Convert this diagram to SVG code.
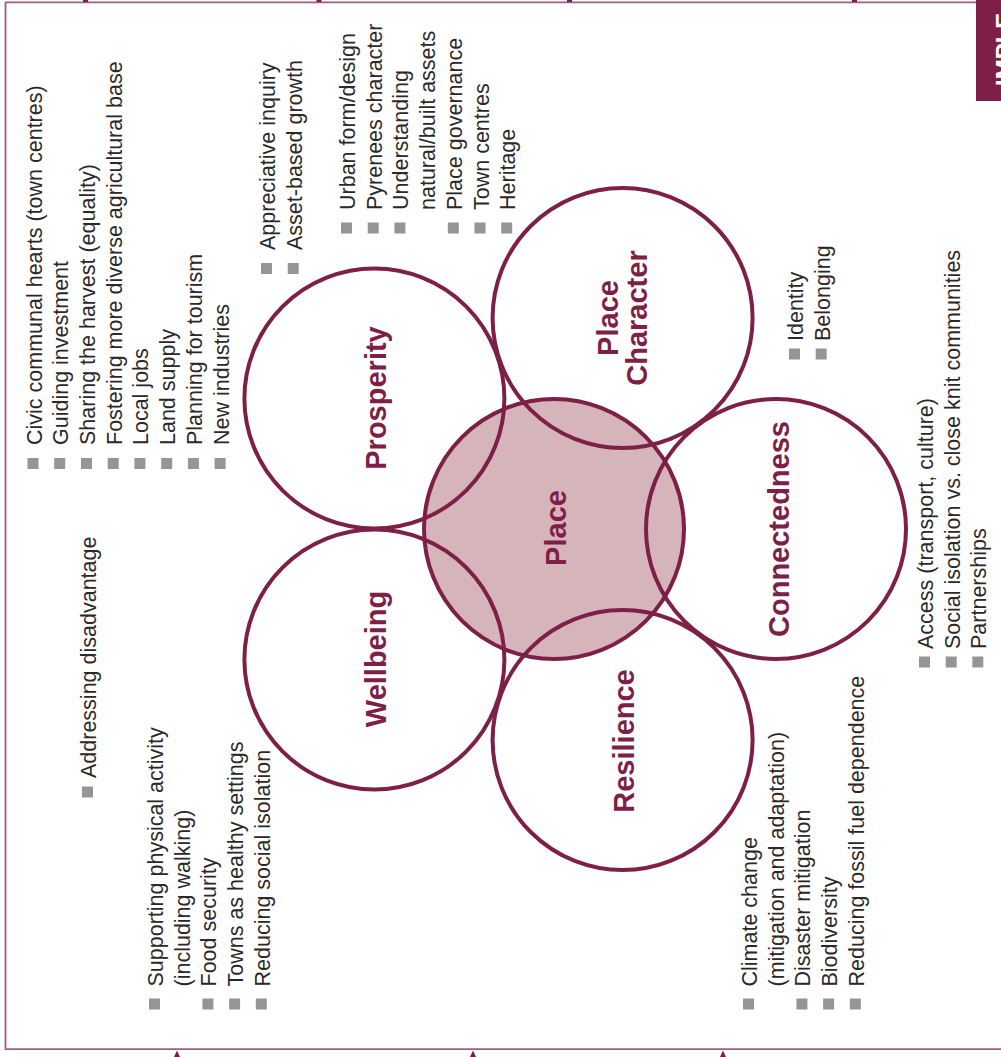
<svg xmlns="http://www.w3.org/2000/svg" width="1001" height="1057" viewBox="0 0 1001 1057">
  <style>
    .ring { fill: none; stroke: #7d1f46; stroke-width: 4; }
    .hub { fill: #d5b5ba; stroke: none; }
    .lbl { font-family: "Liberation Sans", Arial, Helvetica, sans-serif; font-weight: bold; font-size: 29px; fill: #7d1f46; text-anchor: middle; }
    .t { font-family: "Liberation Sans", Arial, Helvetica, sans-serif; font-size: 21.5px; fill: #2a2828; }
    .b { fill: #949599; }
    .frame { fill: none; stroke: #a65b7b; stroke-width: 1.8; }
    .tick { fill: #7d1f46; }
  </style>

  <rect x="0" y="0" width="1001" height="1057" fill="#ffffff"/>

  <!-- page frame -->
  <g id="frame">
    <polyline class="frame" points="976,2.3 5.5,2.3 5.5,1049.2 1001,1049.2"/>
    <rect class="tick" x="83" y="0" width="5" height="2"/>
    <rect class="tick" x="316.5" y="0" width="5" height="2"/>
    <rect class="tick" x="567" y="0" width="5" height="2"/>
    <rect class="tick" x="852" y="0" width="5" height="2"/>
    <rect x="976" y="0" width="25" height="101" fill="#7d1f46"/>
    <text transform="translate(1013 86) rotate(-90)" font-family="Liberation Sans, Arial, sans-serif" font-weight="bold" font-size="24" fill="#ffffff">IMPLE</text>
  </g>

  <!-- arrowheads entering from the lower edge -->
  <g id="connectors" fill="#7d1f46">
    <polygon points="177,1050.6 174,1057 180,1057"/>
    <polygon points="473,1050.6 470,1057 476,1057"/>
    <polygon points="723,1050.6 720,1057 726,1057"/>
  </g>

  <!-- central hub fill drawn under every ring -->
  <circle class="hub" cx="554" cy="529" r="130"/>

  <g id="node-place">
    <circle class="ring" cx="554" cy="529" r="130"/>
    <text class="lbl" transform="translate(566 528) rotate(-90)">Place</text>
  </g>

  <g id="node-prosperity">
    <circle class="ring" cx="374.4" cy="398.5" r="130"/>
    <text class="lbl" transform="translate(386 398) rotate(-90)">Prosperity</text>
  </g>

  <g id="node-place-character">
    <circle class="ring" cx="622.6" cy="317.9" r="130"/>
    <text class="lbl" transform="translate(618 318) rotate(-90)">Place</text>
    <text class="lbl" transform="translate(647 318) rotate(-90)">Character</text>
  </g>

  <g id="node-connectedness">
    <circle class="ring" cx="776" cy="529" r="130"/>
    <text class="lbl" transform="translate(789 529) rotate(-90)">Connectedness</text>
  </g>

  <g id="node-resilience">
    <circle class="ring" cx="622.6" cy="740.1" r="130"/>
    <text class="lbl" transform="translate(634 741) rotate(-90)">Resilience</text>
  </g>

  <g id="node-wellbeing">
    <circle class="ring" cx="374.4" cy="659.5" r="130"/>
    <text class="lbl" transform="translate(386 659) rotate(-90)">Wellbeing</text>
  </g>

  <!-- Prosperity notes -->
  <g id="list-prosperity">
    <rect class="b" x="27.5" y="458" width="11" height="11"/>
    <text class="t" transform="translate(41.5 445) rotate(-90)">Civic communal hearts (town centres)</text>
    <rect class="b" x="54.2" y="458" width="11" height="11"/>
    <text class="t" transform="translate(68.2 445) rotate(-90)">Guiding investment</text>
    <rect class="b" x="81" y="458" width="11" height="11"/>
    <text class="t" transform="translate(95 445) rotate(-90)">Sharing the harvest (equality)</text>
    <rect class="b" x="107.7" y="458" width="11" height="11"/>
    <text class="t" transform="translate(121.7 445) rotate(-90)">Fostering more diverse agricultural base</text>
    <rect class="b" x="134.4" y="458" width="11" height="11"/>
    <text class="t" transform="translate(148.4 445) rotate(-90)">Local jobs</text>
    <rect class="b" x="161.2" y="458" width="11" height="11"/>
    <text class="t" transform="translate(175.2 445) rotate(-90)">Land supply</text>
    <rect class="b" x="187.9" y="458" width="11" height="11"/>
    <text class="t" transform="translate(201.9 445) rotate(-90)">Planning for tourism</text>
    <rect class="b" x="214.6" y="458" width="11" height="11"/>
    <text class="t" transform="translate(228.6 445) rotate(-90)">New industries</text>
  </g>

  <g id="list-prosperity-approach">
    <rect class="b" x="261" y="263" width="11" height="11"/>
    <text class="t" transform="translate(275 250) rotate(-90)">Appreciative inquiry</text>
    <rect class="b" x="287.7" y="263" width="11" height="11"/>
    <text class="t" transform="translate(301.7 250) rotate(-90)">Asset-based growth</text>
  </g>

  <!-- Place Character notes -->
  <g id="list-place-character">
    <rect class="b" x="341" y="222.5" width="11" height="11"/>
    <text class="t" transform="translate(355 210) rotate(-90)">Urban form/design</text>
    <rect class="b" x="367.7" y="222.5" width="11" height="11"/>
    <text class="t" transform="translate(381.7 210) rotate(-90)">Pyrenees character</text>
    <rect class="b" x="394.4" y="222.5" width="11" height="11"/>
    <text class="t" transform="translate(408.4 210) rotate(-90)">Understanding</text>
    <text class="t" transform="translate(435.1 210) rotate(-90)">natural/built assets</text>
    <rect class="b" x="447.8" y="222.5" width="11" height="11"/>
    <text class="t" transform="translate(461.8 210) rotate(-90)">Place governance</text>
    <rect class="b" x="474.5" y="222.5" width="11" height="11"/>
    <text class="t" transform="translate(488.5 210) rotate(-90)">Town centres</text>
    <rect class="b" x="501.2" y="222.5" width="11" height="11"/>
    <text class="t" transform="translate(515.2 210) rotate(-90)">Heritage</text>
  </g>

  <g id="list-place-character-sense">
    <rect class="b" x="789" y="348.5" width="11" height="11"/>
    <text class="t" transform="translate(803 341) rotate(-90)">Identity</text>
    <rect class="b" x="815.7" y="348.5" width="11" height="11"/>
    <text class="t" transform="translate(829.7 341) rotate(-90)">Belonging</text>
  </g>

  <!-- Connectedness notes -->
  <g id="list-connectedness">
    <rect class="b" x="919" y="656.5" width="11" height="11"/>
    <text class="t" transform="translate(933 649) rotate(-90)">Access (transport, culture)</text>
    <rect class="b" x="945.7" y="656.5" width="11" height="11"/>
    <text class="t" transform="translate(959.7 649) rotate(-90)">Social isolation vs. close knit communities</text>
    <rect class="b" x="972.3" y="656.5" width="11" height="11"/>
    <text class="t" transform="translate(986.3 649) rotate(-90)">Partnerships</text>
  </g>

  <!-- Resilience notes -->
  <g id="list-resilience">
    <rect class="b" x="743" y="998.5" width="11" height="11"/>
    <text class="t" transform="translate(757 986.5) rotate(-90)">Climate change</text>
    <text class="t" transform="translate(783.7 986.5) rotate(-90)">(mitigation and adaptation)</text>
    <rect class="b" x="796.4" y="998.5" width="11" height="11"/>
    <text class="t" transform="translate(810.4 986.5) rotate(-90)">Disaster mitigation</text>
    <rect class="b" x="823.1" y="998.5" width="11" height="11"/>
    <text class="t" transform="translate(837.1 986.5) rotate(-90)">Biodiversity</text>
    <rect class="b" x="849.8" y="998.5" width="11" height="11"/>
    <text class="t" transform="translate(863.8 986.5) rotate(-90)">Reducing fossil fuel dependence</text>
  </g>

  <!-- Wellbeing notes -->
  <g id="list-wellbeing">
    <rect class="b" x="149" y="998.5" width="11" height="11"/>
    <text class="t" transform="translate(163 986.5) rotate(-90)">Supporting physical activity</text>
    <text class="t" transform="translate(189.7 986.5) rotate(-90)">(including walking)</text>
    <rect class="b" x="202.4" y="998.5" width="11" height="11"/>
    <text class="t" transform="translate(216.4 986.5) rotate(-90)">Food security</text>
    <rect class="b" x="229.1" y="998.5" width="11" height="11"/>
    <text class="t" transform="translate(243.1 986.5) rotate(-90)">Towns as healthy settings</text>
    <rect class="b" x="255.8" y="998.5" width="11" height="11"/>
    <text class="t" transform="translate(269.8 986.5) rotate(-90)">Reducing social isolation</text>
  </g>

  <g id="list-wellbeing-equity">
    <rect class="b" x="82" y="786.5" width="11" height="11"/>
    <text class="t" transform="translate(96 778) rotate(-90)">Addressing disadvantage</text>
  </g>
</svg>
